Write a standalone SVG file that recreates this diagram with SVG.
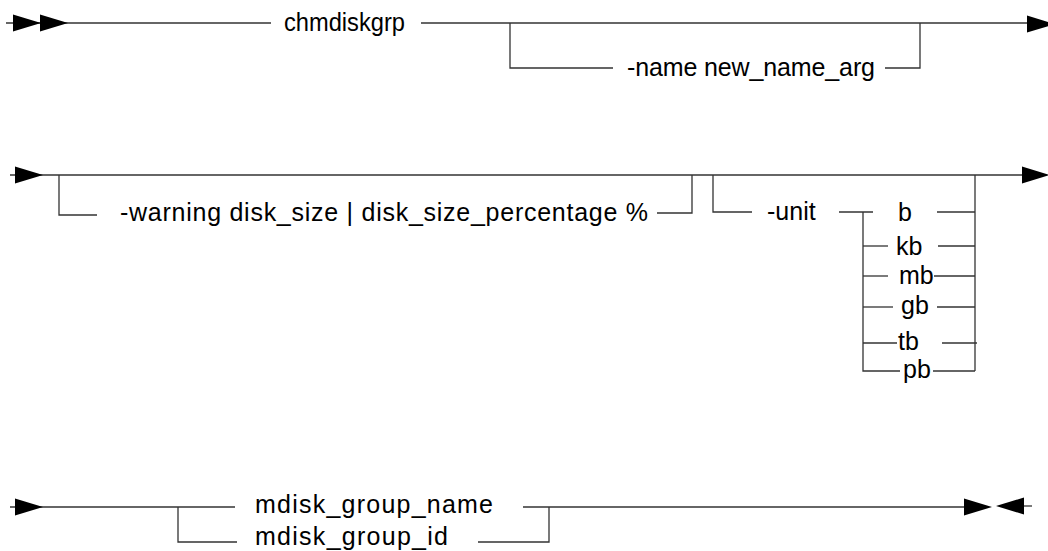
<svg xmlns="http://www.w3.org/2000/svg" xmlns:xlink="http://www.w3.org/1999/xlink" width="1048" height="551" viewBox="0 0 1048 551">
<style>
  .ln { fill: none; stroke: #333; stroke-width: 1.3; }
  .tx { font-family: "Liberation Sans", Arial, sans-serif; font-size: 25px; fill: #000; }
  .ar { fill: #000; }
</style>
<defs>
  <path id="arrR" d="M0,-8.5 L28,0 L0,8.5 Z"/>
  <path id="arrL" d="M0,0 L28,-8.5 L28,8.5 Z"/>
</defs>
<rect width="1048" height="551" fill="#fff"/>

<g id="connectors">
  <!-- row 1 -->
  <path class="ln" d="M6,23 H271"/>
  <path class="ln" d="M421,23 H1030"/>
  <path class="ln" d="M510,23 V68 H613"/>
  <path class="ln" d="M885,68 H920 V23"/>
  <!-- row 2 -->
  <path class="ln" d="M10,175 H1025"/>
  <path class="ln" d="M59,175 V215 H97"/>
  <path class="ln" d="M657,213 H692 V175"/>
  <path class="ln" d="M713,175 V212 H752"/>
  <path class="ln" d="M839,212 H873"/>
  <path class="ln" d="M863,212 V371 H900"/>
  <path class="ln" d="M863,246 H888"/>
  <path class="ln" d="M863,276 H888"/>
  <path class="ln" d="M863,307 H893"/>
  <path class="ln" d="M863,343 H897"/>
  <path class="ln" d="M937,212 H975"/>
  <path class="ln" d="M938,246 H975"/>
  <path class="ln" d="M934,276 H975"/>
  <path class="ln" d="M937,307 H975"/>
  <path class="ln" d="M942,343 H977"/>
  <path class="ln" d="M933,371 H975"/>
  <path class="ln" d="M975,175 V371"/>
  <!-- row 3 -->
  <path class="ln" d="M10,507 H235"/>
  <path class="ln" d="M178,507 V542 H237"/>
  <path class="ln" d="M523,507 H966"/>
  <path class="ln" d="M478,542 H549 V507"/>
  <path class="ln" d="M1022,506 H1032"/>
  <!-- arrowheads -->
  <use href="#arrR" class="ar" x="13" y="23"/>
  <use href="#arrR" class="ar" x="40" y="23"/>
  <use href="#arrR" class="ar" x="1027" y="24"/>
  <use href="#arrR" class="ar" x="15" y="175"/>
  <use href="#arrR" class="ar" x="1022" y="175"/>
  <use href="#arrR" class="ar" x="15" y="507"/>
  <use href="#arrR" class="ar" x="964" y="507"/>
  <use href="#arrL" class="ar" x="996" y="506"/>
</g>

<g id="n-chmdiskgrp"><text class="tx" x="284" y="31" textLength="121" lengthAdjust="spacingAndGlyphs">chmdiskgrp</text></g>
<g id="n-name"><text class="tx" x="627" y="76" textLength="248" lengthAdjust="spacing">-name new_name_arg</text></g>
<g id="n-warning"><text class="tx" x="120" y="221" textLength="528" lengthAdjust="spacing">-warning disk_size | disk_size_percentage %</text></g>
<g id="n-unit"><text class="tx" x="767" y="220">-unit</text></g>
<g id="n-b"><text class="tx" x="898" y="221">b</text></g>
<g id="n-kb"><text class="tx" x="896" y="255">kb</text></g>
<g id="n-mb"><text class="tx" x="899" y="284">mb</text></g>
<g id="n-gb"><text class="tx" x="901" y="314">gb</text></g>
<g id="n-tb"><text class="tx" x="898" y="350">tb</text></g>
<g id="n-pb"><text class="tx" x="903" y="378">pb</text></g>
<g id="n-mdisk-name"><text class="tx" x="255" y="513" textLength="238" lengthAdjust="spacing">mdisk_group_name</text></g>
<g id="n-mdisk-id"><text class="tx" x="255" y="545" textLength="193" lengthAdjust="spacing">mdisk_group_id</text></g>
</svg>
